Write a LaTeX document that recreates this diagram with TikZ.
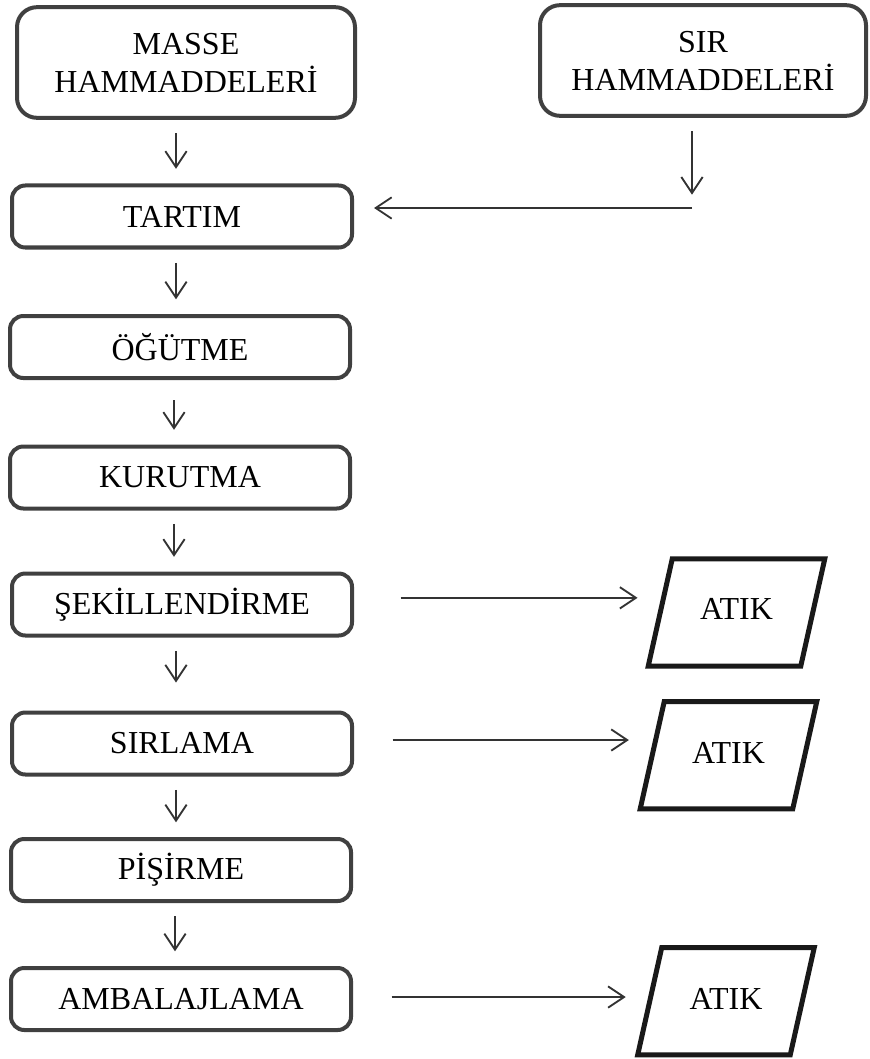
\documentclass[tikz,border=0pt]{standalone}
\usepackage{fontspec}
\setmainfont{Liberation Serif}
\usetikzlibrary{arrows.meta}
\definecolor{boxgray}{HTML}{404040}
\definecolor{arrowgray}{HTML}{333333}

\begin{document}
\begin{tikzpicture}[x=0.75pt,y=-0.75pt,
  every node/.style={font=\fontsize{24}{28.5}\selectfont},
  stage/.style={draw=boxgray,line width=3pt,rounded corners=10pt,
    minimum width=255pt,minimum height=46.5pt,align=center},
  source/.style={stage,rounded corners=15pt,minimum height=83pt},
  waste/.style={minimum width=114pt,minimum height=80pt},
  wasteline/.style={draw=black!90,line width=3.75pt},
  flow/.style={draw=arrowgray,line width=1.4pt,
    -{Straight Barb[length=12pt,width=16pt]},
    shorten <=10pt,shorten >=11pt}]
\useasboundingbox (0,0) rectangle (869,1059);
% Raw materials
\node[source,minimum width=253.5pt] (masse) at (186,62.5) {MASSE\\HAMMADDELERİ};
\node[source,minimum width=244.5pt] (sir)   at (703,60.5) {SIR\\HAMMADDELERİ};
% Process steps
\node[stage] (tartim)  at (182,216.5) {TARTIM};
\node[stage] (ogutme)  at (180,347  ) {ÖĞÜTME};
\node[stage] (kurutma) at (180,477.5) {KURUTMA};
\node[stage] (sekil)   at (182,604.5) {ŞEKİLLENDİRME};
\node[stage] (sirlama) at (182,743.5) {SIRLAMA};
\node[stage] (pisirme) at (181,870  ) {PİŞİRME};
\node[stage] (ambalaj) at (181,999  ) {AMBALAJLAMA};
% Waste
\node[waste] (atika) at (736.5,608.5) {ATIK};
\node[waste] (atikb) at (728.5,752.5) {ATIK};
\node[waste] (atikc) at (726,998.5) {ATIK};
\foreach \w/\dy in {atika/-3,atikb/-2,atikc/-2}
  \draw[wasteline] ([xshift=-9pt,yshift=\dy pt]\w.south west) -- ([xshift=9pt,yshift=\dy pt]\w.north west)
    -- ([xshift=9pt,yshift=\dy pt]\w.north east) -- ([xshift=-9pt,yshift=\dy pt]\w.south east) -- cycle;
% Main line
\draw[flow] ([xshift=-4.5pt]tartim.north |- masse.south) -- ([xshift=-4.5pt]tartim.north);
\draw[flow] ([xshift=-4.5pt]tartim.south) -- ([xshift=-4.5pt]tartim.south |- ogutme.north);
\draw[flow,shorten <=15pt] ([xshift=-4.5pt]ogutme.south) -- ([xshift=-4.5pt]kurutma.north);
\draw[flow] ([xshift=-4.5pt]kurutma.south) -- ([xshift=-4.5pt]kurutma.south |- sekil.north);
\draw[flow,shorten >=21pt] ([xshift=-4.5pt]sekil.south) -- ([xshift=-4.5pt]sirlama.north);
\draw[flow] ([xshift=-4.5pt]sirlama.south) -- ([xshift=-4.5pt]sirlama.south |- pisirme.north);
\draw[flow] ([xshift=-4.5pt]pisirme.south) -- ([xshift=-4.5pt]ambalaj.north);
% Glaze feed
\coordinate (sirjoin) at (692,208);
\draw[flow,shorten >=10pt] (sir.south -| sirjoin) -- (sirjoin);
\draw[flow,shorten <=0pt,shorten >=15pt] (sirjoin) -- (sirjoin -| tartim.east);
% Waste lines
\draw[flow,shorten <=35pt,shorten >=17pt] ([yshift=5pt]sekil.east) -- ([yshift=5pt]sekil.east -| atika.west);
\draw[flow,shorten <=29pt,shorten >=17.5pt] ([yshift=2.6pt]sirlama.east) -- ([yshift=2.6pt]sirlama.east -| atikb.west);
\draw[flow,shorten <=29pt,shorten >=18pt] ([yshift=1.5pt]ambalaj.east) -- ([yshift=1.5pt]ambalaj.east -| atikc.west);
\end{tikzpicture}
\end{document}
